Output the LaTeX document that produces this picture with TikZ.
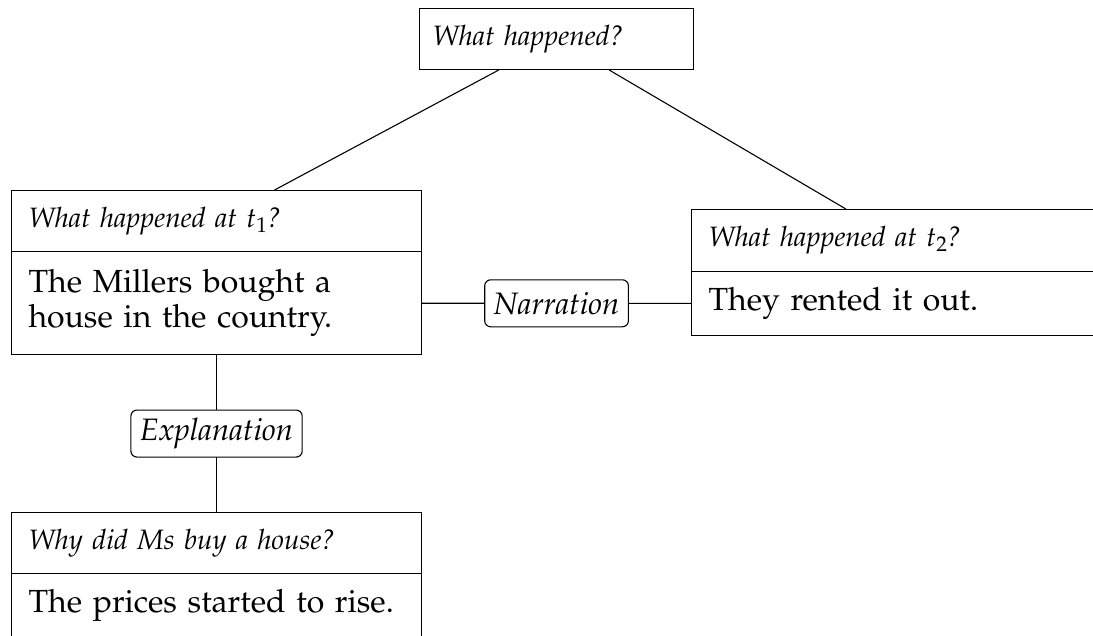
\documentclass[tikz,border=0pt]{standalone}
\usepackage[T1]{fontenc}
\usepackage{mathpazo}
\tikzset{
  box/.style={draw, line width=1.1pt, rectangle, align=left, inner xsep=17pt, anchor=north west},
  hdr/.style={box, font=\fontsize{28}{34}\selectfont\itshape, minimum height=61pt},
  bdy/.style={box, font=\fontsize{32}{35.5}\selectfont},
  rel/.style={draw, line width=1.1pt, rounded corners=6pt, fill=white, inner xsep=9pt, minimum height=47pt, font=\fontsize{31}{36}\selectfont\itshape},
  conn/.style={line width=1.1pt}
}
\begin{document}
\begin{tikzpicture}[x=1pt,y=-1pt]
\useasboundingbox (0,0) rectangle (1093,635);
\clip (0,0) rectangle (1093,635);
\node[hdr, inner xsep=13pt, text width=248pt] (top) at (419,8) {What happened?};
\node[hdr, text width=376pt] (ah) at (11,190) {What happened at $t_1$?};
\node[bdy, text width=376pt, minimum height=103pt] (ab) at (11,251) {The Millers bought a\\house in the country.};
\node[hdr, text width=382pt, minimum height=62pt] (bh) at (691,209) {What happened at $t_2$?};
\node[bdy, text width=382pt, minimum height=64pt] (bb) at (691,271) {They rented it out.};
\node[hdr, text width=376pt] (ch) at (11,512) {Why did Ms buy a house?};
\node[bdy, text width=376pt, minimum height=64pt] (cb) at (11,573) {The prices started to rise.};
\draw[conn] (top) -- (ah);
\draw[conn] (top) -- (bh);
\draw[conn] (ab) -- node[rel] (narr) {Narration} (bb);
\draw[conn] (ab) -- node[rel] (expl) {Explanation} (ch);
\end{tikzpicture}
\end{document}
